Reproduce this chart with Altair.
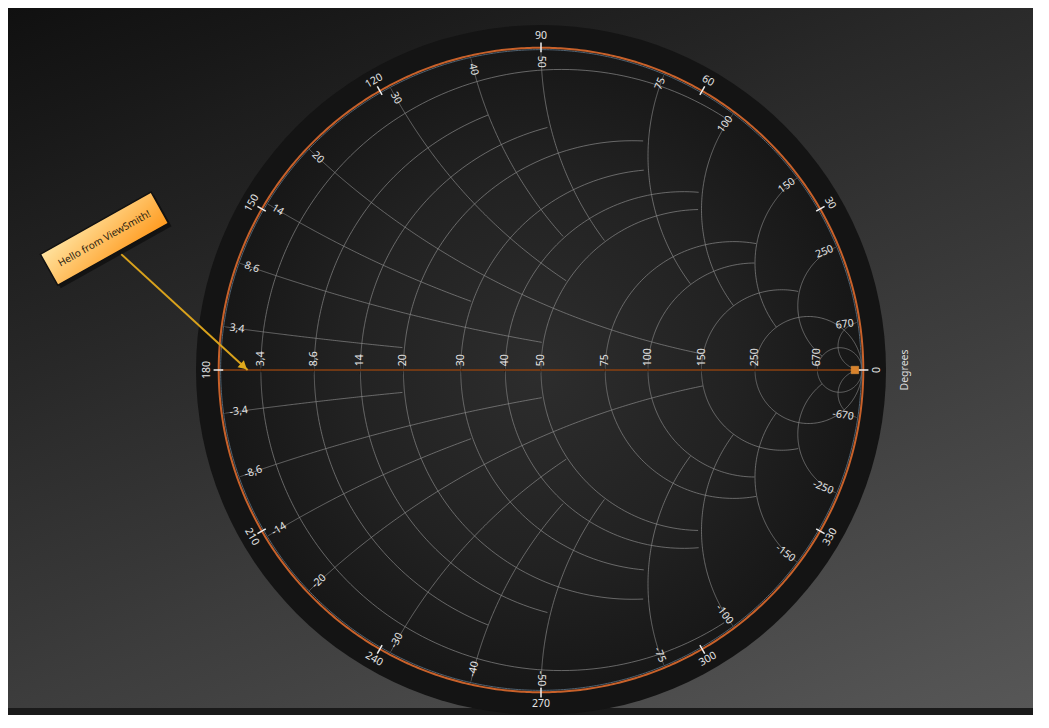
import altair as alt
import numpy as np
import pandas as pd

# ---------------- data ----------------
Z0 = 50.0
resistance_values = [3.4, 8.6, 14, 20, 30, 40, 50, 75, 100, 150, 250, 670]
resistance_labels = ["3,4", "8,6", "14", "20", "30", "40", "50", "75", "100", "150", "250", "670"]
reactance_values = [3.4, 8.6, 14, 20, 30, 40, 50, 75, 100, 150, 250, 670]
reactance_labels = ["3,4", "8,6", "14", "20", "30", "40", "50", "75", "100", "150", "250", "670"]
# max |X| (ohm) drawn on each resistance circle, max R (ohm) drawn on each reactance arc
resistance_clip = [100, 40, 50, 75, 75, 100, 100, 150, 150, 250, 1e9, 1e9]
reactance_clip = [20, 50, 30, 150, 50, 40, 50, 100, 150, 250, 670, 1e9]
degree_values = [0, 30, 60, 90, 120, 150, 180, 210, 240, 270, 300, 330]
degree_labels = ["0", "30", "60", "90", "120", "150", "180", "210", "240", "270", "300", "330"]
axis_title = "Degrees"
marker_point = [0.978, 0.0]
annotation_text = "Hello from ViewSmith!"
annotation_box = [-1.360, 0.409]
annotation_tip = [-0.914, 0.0]
annotation_start = [-1.308, 0.361]

# ---------------- layout ----------------
W, H = 1025, 700
PX = 321.0          # pixels per unit reflection coefficient
CX, CY = 533.0, 362.0
xdom = [-CX / PX, (W - CX) / PX]
ydom = [-(H - CY) / PX, CY / PX]
xs = alt.Scale(domain=xdom, nice=False, zero=False)
ys = alt.Scale(domain=ydom, nice=False, zero=False)
FONT = "Noto Sans"

def gamma(z):
    return (z - 1) / (z + 1)

# ---------------- grid curves ----------------
rows = []
for R, lim in zip(resistance_values, resistance_clip):
    r = R / Z0
    xl = lim / Z0
    xv = np.concatenate([-np.logspace(4, -4, 700), [0], np.logspace(-4, 4, 700)])
    xv = xv[np.abs(xv) <= xl + 1e-9]
    g = gamma(r + 1j * xv)
    for i, gg in enumerate(g):
        rows.append({"cid": f"r{R}", "o": i, "gx": gg.real, "gy": gg.imag})
for Xv, lim in zip(reactance_values, reactance_clip):
    for s in (1, -1):
        x = s * Xv / Z0
        rl = lim / Z0
        rv = np.concatenate([[0], np.logspace(-4, 4, 900)])
        rv = rv[rv <= rl + 1e-9]
        g = gamma(rv + 1j * x)
        for i, gg in enumerate(g):
            rows.append({"cid": f"x{s*Xv}", "o": i, "gx": gg.real, "gy": gg.imag})
grid_df = pd.DataFrame(rows)

th = np.linspace(0, 2 * np.pi, 721)
circ_df = pd.DataFrame({"o": np.arange(len(th)), "gx": 0.998 * np.cos(th), "gy": 0.998 * np.sin(th)})
orange_df = pd.DataFrame({"o": np.arange(len(th)), "gx": 1.004 * np.cos(th), "gy": 1.004 * np.sin(th)})

# ---------------- labels ----------------
res_lab = pd.DataFrame({
    "gx": [gamma(R / Z0) for R in resistance_values],
    "gy": [0.012] * len(resistance_values),
    "t": resistance_labels,
})

rl = []
for Xv, lab in zip(reactance_values, reactance_labels):
    for s in (1, -1):
        x = s * Xv / Z0
        g = gamma(1j * x)
        thd = np.degrees(np.angle(g))
        txt = lab if s > 0 else "-" + lab
        if np.cos(np.radians(thd)) < -1e-9 or abs(thd - 90) < 1e-6:
            ang = (180 - thd) % 360
            al = "left"
        else:
            ang = (-thd) % 360
            al = "right"
        rl.append({"gx": 0.985 * g.real, "gy": 0.985 * g.imag, "t": txt, "ang": ang, "al": al})
reac_lab = pd.DataFrame(rl)

dl = []
for d, lab in zip(degree_values, degree_labels):
    a = np.radians(d)
    ang = (90 - d)
    while ang > 90:
        ang -= 180
    while ang < -90:
        ang += 180
    dl.append({"gx": 1.040 * np.cos(a), "gy": 1.040 * np.sin(a), "t": lab, "ang": ang % 360,
               "x1": 0.99 * np.cos(a), "y1": 0.99 * np.sin(a),
               "x2": 1.020 * np.cos(a), "y2": 1.020 * np.sin(a)})
deg_df = pd.DataFrame(dl)

X = lambda f="gx": alt.X(f, type="quantitative", scale=xs, axis=None)
Y = lambda f="gy": alt.Y(f, type="quantitative", scale=ys, axis=None)

one = pd.DataFrame({"gx": [0.0], "gy": [0.0]})

bg = alt.Chart(one).mark_rect(
    color=alt.LinearGradient(
        gradient="linear",
        stops=[alt.GradientStop(color="#101010", offset=0),
               alt.GradientStop(color="#575757", offset=1)],
        x1=0, y1=0, x2=0.69, y2=1.18)
).encode(x=alt.value(0), x2=alt.value(W), y=alt.value(0), y2=alt.value(H))

outer = alt.Chart(one).mark_circle(opacity=1, color="#141414", size=690 ** 2).encode(x=X(), y=Y())
inner = alt.Chart(one).mark_circle(
    opacity=1, size=644 ** 2,
    color=alt.RadialGradient(
        gradient="radial",
        stops=[alt.GradientStop(color="#2d2d2d", offset=0),
               alt.GradientStop(color="#222222", offset=0.6),
               alt.GradientStop(color="#171717", offset=1)],
        x1=0.5, y1=0.5, r1=0, x2=0.5, y2=0.5, r2=0.5)
).encode(x=X(), y=Y())

grid = alt.Chart(grid_df).mark_line(color="#8c8c8c", strokeWidth=0.8, opacity=0.85).encode(
    x=X(), y=Y(), detail="cid:N", order="o:Q")

blue = alt.Chart(circ_df).mark_line(color="#4f6272", strokeWidth=1).encode(x=X(), y=Y(), order="o:Q")
orange = alt.Chart(orange_df).mark_line(color="#c8612a", strokeWidth=2).encode(x=X(), y=Y(), order="o:Q")

hline = alt.Chart(pd.DataFrame({"gx": [-1.0], "gy": [0.0], "gx2": [1.0]})).mark_rule(
    color="#8a4010", strokeWidth=1.5).encode(x=X(), x2="gx2:Q", y=Y())

ticks = alt.Chart(deg_df).mark_rule(color="#f0f0f0", strokeWidth=1.5).encode(
    x=X("x1"), y=Y("y1"), x2="x2:Q", y2="y2:Q")

deg_text = alt.Chart(deg_df).mark_text(font=FONT, fontSize=10.5, color="#e6e6e6", baseline="middle", align="center").encode(
    x=X(), y=Y(), text="t:N", angle=alt.Angle("ang:Q", scale=None))

res_text = alt.Chart(res_lab).mark_text(font=FONT, fontSize=10.5, color="#e6e6e6", baseline="middle", align="left", angle=270).encode(
    x=X(), y=Y(), text="t:N")

reac_l = alt.Chart(reac_lab[reac_lab.al == "left"]).mark_text(font=FONT, fontSize=10.5, color="#e6e6e6", baseline="middle", align="left", dx=2).encode(
    x=X(), y=Y(), text="t:N", angle=alt.Angle("ang:Q", scale=None))
reac_r = alt.Chart(reac_lab[reac_lab.al == "right"]).mark_text(font=FONT, fontSize=10.5, color="#e6e6e6", baseline="middle", align="right").encode(
    x=X(), y=Y(), text="t:N", angle=alt.Angle("ang:Q", scale=None))

title = alt.Chart(pd.DataFrame({"gx": [1.135], "gy": [0.0], "t": [axis_title]})).mark_text(
    font=FONT, fontSize=10.5, color="#dcdcdc", angle=270, align="center", baseline="middle").encode(x=X(), y=Y(), text="t:N")

marker = alt.Chart(pd.DataFrame({"gx": [marker_point[0]], "gy": [marker_point[1]]})).mark_point(
    shape="square", filled=True, size=55, color="#d9822b", opacity=1, stroke="#f0a040", strokeWidth=0.5).encode(x=X(), y=Y())

box_shape = "M-1,-0.281L1,-0.281L1,0.281L-1,0.281Z"
box_df = pd.DataFrame({"gx": [annotation_box[0]], "gy": [annotation_box[1]], "t": [annotation_text]})
shadow = alt.Chart(box_df).mark_point(shape=box_shape, filled=True, size=127 ** 2, color="#000000", opacity=0.45,
                                      angle=330.7, xOffset=3, yOffset=3).encode(x=X(), y=Y())
box = alt.Chart(box_df).mark_point(
    shape=box_shape, filled=True, size=127 ** 2, angle=330.7, opacity=1, stroke="#111111", strokeWidth=1.5,
    color=alt.LinearGradient(gradient="linear",
                             stops=[alt.GradientStop(color="#ffe3a0", offset=0),
                                    alt.GradientStop(color="#ff9a1e", offset=1)],
                             x1=0, y1=0, x2=1, y2=1)).encode(x=X(), y=Y())
box_text = alt.Chart(box_df).mark_text(font=FONT, fontSize=10, color="#2a2210", angle=330.7).encode(
    x=X(), y=Y(), text="t:N")

arrow_df = pd.DataFrame({"gx": [annotation_start[0]], "gy": [annotation_start[1]],
                         "gx2": [annotation_tip[0]], "gy2": [annotation_tip[1]]})
arrow = alt.Chart(arrow_df).mark_rule(color="#d9a21c", strokeWidth=2).encode(
    x=X(), y=Y(), x2="gx2:Q", y2="gy2:Q")
head = alt.Chart(pd.DataFrame({"gx": [annotation_tip[0] - 0.012], "gy": [annotation_tip[1] + 0.011]})).mark_point(
    shape="triangle-up", filled=True, size=90, color="#e0aa1c", angle=132, opacity=1).encode(x=X(), y=Y())

chart = alt.layer(
    bg, outer, inner, grid, blue, orange, hline, ticks, deg_text, res_text, reac_l, reac_r, title,
    marker, arrow, head, shadow, box, box_text
).properties(width=W, height=H, padding=0, background="#1a1a1a").configure_view(stroke=None)

chart.save("out.html", embed_options={"renderer": "svg", "actions": False})
